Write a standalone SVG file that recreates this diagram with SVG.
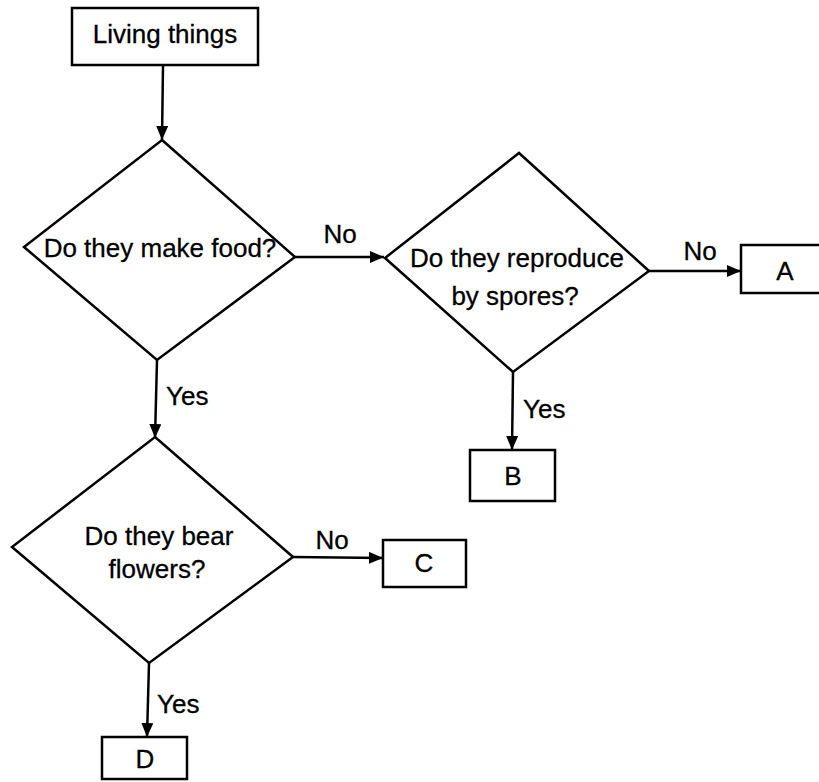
<svg xmlns="http://www.w3.org/2000/svg" width="819" height="782" viewBox="0 0 819 782">
<style>
.shape{fill:#fff;stroke:#000;stroke-width:2.5}
.conn{fill:none;stroke:#000;stroke-width:2.5}
text{font-family:"Liberation Sans",Arial,sans-serif;font-size:26px;fill:#000;stroke:#000;stroke-width:0.3}
.c{text-anchor:middle}
</style>
<defs>
<marker id="arr" viewBox="0 0 14 12" refX="14" refY="6" markerWidth="14" markerHeight="12" markerUnits="userSpaceOnUse" orient="auto">
<path d="M0,0 L14,6 L0,12 Z" fill="#000"/>
</marker>
</defs>
<rect width="819" height="782" fill="#fff"/>
<g id="connectors">
<line class="conn" x1="163" y1="66" x2="162" y2="140" marker-end="url(#arr)"/>
<line class="conn" x1="295" y1="257" x2="384" y2="257" marker-end="url(#arr)"/>
<line class="conn" x1="157" y1="360" x2="155" y2="438" marker-end="url(#arr)"/>
<line class="conn" x1="649" y1="271" x2="741" y2="271" marker-end="url(#arr)"/>
<line class="conn" x1="513" y1="372" x2="512" y2="450" marker-end="url(#arr)"/>
<line class="conn" x1="293" y1="557" x2="383" y2="558" marker-end="url(#arr)"/>
<line class="conn" x1="149" y1="663" x2="147" y2="737" marker-end="url(#arr)"/>
<text class="c" x="340" y="243">No</text>
<text x="166" y="405">Yes</text>
<text class="c" x="700" y="260">No</text>
<text x="523" y="418">Yes</text>
<text class="c" x="332" y="549">No</text>
<text x="157" y="713">Yes</text>
</g>
<g id="living">
<rect class="shape" x="72" y="8" width="186" height="57"/>
<text class="c" x="165" y="43">Living things</text>
</g>
<g id="q-food">
<polygon class="shape" points="162,140 295,257 157,360 24,247"/>
<text class="c" x="160" y="257">Do they make food?</text>
</g>
<g id="q-spores">
<polygon class="shape" points="519,153 649,271 513,372 385,258"/>
<text class="c" x="517" y="267">Do they reproduce</text>
<text class="c" x="515" y="305">by spores?</text>
</g>
<g id="q-flowers">
<polygon class="shape" points="155,437 293,557 149,663 12,547"/>
<text class="c" x="159" y="545">Do they bear</text>
<text class="c" x="157" y="578">flowers?</text>
</g>
<g id="A">
<rect class="shape" x="741" y="245" width="90" height="48"/>
<text class="c" x="785" y="280">A</text>
</g>
<g id="B">
<rect class="shape" x="470" y="450" width="85" height="51"/>
<text class="c" x="513" y="485">B</text>
</g>
<g id="C">
<rect class="shape" x="383" y="540" width="83" height="47"/>
<text class="c" x="424" y="572">C</text>
</g>
<g id="D">
<rect class="shape" x="102" y="737" width="85" height="42"/>
<text class="c" x="145" y="768">D</text>
</g>
</svg>
